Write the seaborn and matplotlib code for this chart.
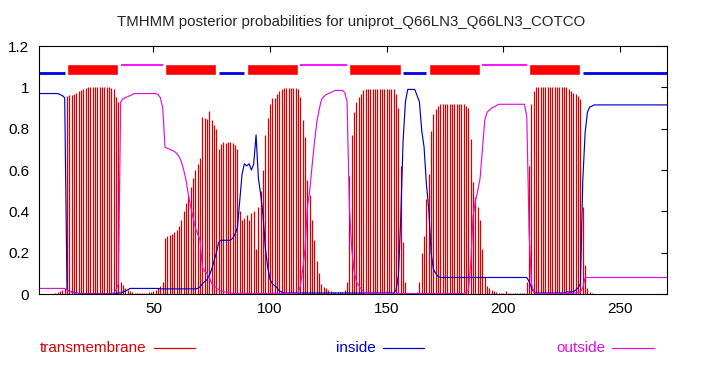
import numpy as np
import pandas as pd
import matplotlib
matplotlib.use("Agg")
import matplotlib.pyplot as plt
from matplotlib.lines import Line2D
import seaborn as sns

# posterior probabilities per residue (1..270)
tm_prob = [
    0, 0, 0, 0, 0, 0, 0, 0.005, 0.01, 0.015,
    0.02, 0.03, 0.96, 0.965, 0.965, 0.97, 0.975, 0.98, 0.985, 0.99,
    0.995, 1, 1, 1, 1, 1, 1, 1, 1, 1,
    1, 0.995, 0.99, 0.955, 0.93, 0.06, 0.045, 0.03, 0.02, 0.015,
    0.01, 0.005, 0.005, 0.005, 0.005, 0.005, 0.005, 0.01, 0.01, 0.015,
    0.02, 0.03, 0.04, 0.06, 0.27, 0.28, 0.285, 0.29, 0.30, 0.31,
    0.33, 0.36, 0.40, 0.44, 0.48, 0.52, 0.56, 0.60, 0.63, 0.66,
    0.855, 0.85, 0.845, 0.885, 0.84, 0.82, 0.80, 0.70, 0.725, 0.735,
    0.73, 0.735, 0.735, 0.73, 0.72, 0.70, 0.40, 0.36, 0.37, 0.38,
    0.36, 0.39, 0.40, 0.22, 0.42, 0.50, 0.60, 0.77, 0.85, 0.92,
    0.95, 0.95, 0.97, 0.98, 0.99, 0.995, 0.995, 0.995, 0.995, 0.995,
    0.995, 0.99, 0.955, 0.84, 0.76, 0.55, 0.48, 0.36, 0.26, 0.16,
    0.10, 0.05, 0.035, 0.03, 0.02, 0.015, 0.01, 0.01, 0.01, 0.01,
    0.01, 0.02, 0.06, 0.57, 0.77, 0.88, 0.93, 0.955, 0.97, 0.985,
    0.99, 0.99, 0.99, 0.99, 0.99, 0.99, 0.99, 0.99, 0.99, 0.99,
    0.99, 0.99, 0.99, 0.97, 0.90, 0.62, 0.25, 0.06, 0, 0,
    0, 0, 0.01, 0.06, 0.20, 0.28, 0.46, 0.58, 0.79, 0.87,
    0.895, 0.91, 0.92, 0.92, 0.92, 0.92, 0.92, 0.92, 0.92, 0.92,
    0.92, 0.92, 0.92, 0.91, 0.90, 0.75, 0.54, 0.47, 0.42, 0.36,
    0.22, 0.08, 0.04, 0.03, 0.02, 0.015, 0.01, 0.005, 0.005, 0.005,
    0.015, 0.005, 0.005, 0.005, 0.005, 0.005, 0.005, 0.005, 0.005, 0.06,
    0.62, 0.92, 0.98, 1, 1, 1, 1, 1, 1, 1,
    1, 1, 1, 1, 1, 1, 1, 0.99, 0.98, 0.975,
    0.97, 0.96, 0.945, 0.42, 0.14, 0.03, 0.01, 0.005, 0, 0,
    0, 0, 0, 0, 0, 0, 0, 0, 0, 0,
    0, 0, 0, 0, 0, 0, 0, 0, 0, 0,
    0, 0, 0, 0, 0, 0, 0, 0, 0, 0,
]

inside_prob = [
    0.97, 0.97, 0.97, 0.97, 0.97, 0.97, 0.97, 0.97, 0.97, 0.965,
    0.96, 0.95, 0.02, 0.015, 0.01, 0.008, 0.005, 0.003, 0.002, 0.002,
    0.001, 0.001, 0.001, 0.001, 0.001, 0.001, 0.001, 0.001, 0.001, 0.001,
    0.001, 0.002, 0.003, 0.003, 0.005, 0.005, 0.01, 0.015, 0.02, 0.027,
    0.027, 0.027, 0.027, 0.027, 0.027, 0.027, 0.027, 0.027, 0.027, 0.027,
    0.027, 0.027, 0.025, 0.025, 0.025, 0.025, 0.025, 0.025, 0.025, 0.025,
    0.025, 0.025, 0.025, 0.025, 0.025, 0.025, 0.025, 0.025, 0.027, 0.035,
    0.05, 0.06, 0.07, 0.09, 0.12, 0.16, 0.20, 0.25, 0.26, 0.26,
    0.26, 0.26, 0.26, 0.27, 0.29, 0.32, 0.45, 0.58, 0.63, 0.62,
    0.63, 0.60, 0.63, 0.77, 0.56, 0.48, 0.38, 0.22, 0.13, 0.07,
    0.05, 0.04, 0.03, 0.015, 0.01, 0.005, 0.005, 0.005, 0.005, 0.005,
    0.005, 0.005, 0.005, 0.005, 0.005, 0.005, 0.005, 0.005, 0.005, 0.005,
    0.005, 0.005, 0.005, 0.005, 0.005, 0.005, 0.005, 0.005, 0.005, 0.005,
    0.005, 0.005, 0.005, 0.005, 0.005, 0.005, 0.005, 0.005, 0.005, 0.005,
    0.005, 0.005, 0.005, 0.005, 0.005, 0.005, 0.005, 0.005, 0.005, 0.005,
    0.005, 0.005, 0.005, 0.02, 0.09, 0.37, 0.74, 0.93, 0.99, 0.99,
    0.99, 0.99, 0.96, 0.93, 0.79, 0.71, 0.53, 0.41, 0.20, 0.12,
    0.10, 0.085, 0.08, 0.08, 0.08, 0.08, 0.08, 0.08, 0.08, 0.08,
    0.08, 0.08, 0.08, 0.08, 0.08, 0.08, 0.08, 0.08, 0.08, 0.08,
    0.08, 0.08, 0.08, 0.08, 0.08, 0.08, 0.08, 0.08, 0.08, 0.08,
    0.08, 0.08, 0.08, 0.08, 0.08, 0.08, 0.08, 0.08, 0.08, 0.08,
    0.06, 0.03, 0.01, 0.005, 0.005, 0.005, 0.005, 0.005, 0.005, 0.005,
    0.005, 0.005, 0.005, 0.005, 0.005, 0.005, 0.01, 0.01, 0.01, 0.01,
    0.02, 0.03, 0.05, 0.55, 0.78, 0.88, 0.905, 0.91, 0.915, 0.915,
    0.915, 0.915, 0.915, 0.915, 0.915, 0.915, 0.915, 0.915, 0.915, 0.915,
    0.915, 0.915, 0.915, 0.915, 0.915, 0.915, 0.915, 0.915, 0.915, 0.915,
    0.915, 0.915, 0.915, 0.915, 0.915, 0.915, 0.915, 0.915, 0.915, 0.915,
]

outside_prob = [
    0.027, 0.027, 0.027, 0.027, 0.027, 0.027, 0.027, 0.027, 0.027, 0.027,
    0.027, 0.027, 0.02, 0.015, 0.01, 0.006, 0.004, 0.002, 0, 0,
    0, 0, 0, 0, 0, 0, 0, 0, 0, 0,
    0, 0, 0.005, 0.02, 0.05, 0.93, 0.945, 0.95, 0.955, 0.96,
    0.965, 0.97, 0.97, 0.97, 0.97, 0.97, 0.97, 0.97, 0.97, 0.97,
    0.97, 0.965, 0.95, 0.90, 0.71, 0.705, 0.70, 0.695, 0.69, 0.68,
    0.665, 0.64, 0.60, 0.55, 0.48, 0.42, 0.37, 0.32, 0.29, 0.26,
    0.13, 0.11, 0.10, 0.08, 0.05, 0.04, 0.03, 0.02, 0.015, 0.01,
    0.01, 0.008, 0.005, 0.003, 0.003, 0.003, 0.003, 0.003, 0.003, 0.003,
    0.002, 0.002, 0.002, 0.002, 0.002, 0.002, 0.002, 0.002, 0.002, 0.002,
    0.002, 0.002, 0.002, 0.002, 0.002, 0.002, 0.002, 0.002, 0.002, 0.002,
    0.002, 0.005, 0.04, 0.12, 0.22, 0.42, 0.50, 0.62, 0.73, 0.83,
    0.89, 0.94, 0.955, 0.965, 0.97, 0.975, 0.98, 0.985, 0.985, 0.985,
    0.985, 0.975, 0.93, 0.42, 0.22, 0.11, 0.06, 0.04, 0.025, 0.012,
    0.005, 0.005, 0.005, 0.005, 0.005, 0.002, 0.002, 0.002, 0.002, 0.002,
    0.002, 0.002, 0.002, 0.002, 0.002, 0.002, 0.002, 0.002, 0.002, 0.002,
    0.002, 0.002, 0.002, 0.002, 0.002, 0.002, 0.002, 0.002, 0.002, 0.002,
    0.002, 0.002, 0.002, 0.002, 0.002, 0.002, 0.002, 0.002, 0.002, 0.002,
    0.002, 0.002, 0.002, 0.01, 0.02, 0.15, 0.38, 0.45, 0.50, 0.56,
    0.70, 0.84, 0.88, 0.89, 0.90, 0.905, 0.912, 0.918, 0.918, 0.918,
    0.918, 0.918, 0.918, 0.918, 0.918, 0.918, 0.918, 0.918, 0.918, 0.86,
    0.30, 0.05, 0.01, 0.002, 0.002, 0.002, 0.002, 0.002, 0.002, 0.002,
    0.002, 0.002, 0.002, 0.002, 0.002, 0.002, 0.003, 0.003, 0.003, 0.003,
    0.005, 0.008, 0.01, 0.03, 0.08, 0.08, 0.08, 0.08, 0.08, 0.08,
    0.08, 0.08, 0.08, 0.08, 0.08, 0.08, 0.08, 0.08, 0.08, 0.08,
    0.08, 0.08, 0.08, 0.08, 0.08, 0.08, 0.08, 0.08, 0.08, 0.08,
    0.08, 0.08, 0.08, 0.08, 0.08, 0.08, 0.08, 0.08, 0.08, 0.08,
]

# predicted topology (first, last residue)
tm_segments = [(13, 35), (55, 77), (90, 112), (134, 156), (168, 190), (211, 233)]
inside_segments = [(1, 12), (78, 89), (157, 167), (234, 270)]
outside_segments = [(36, 54), (113, 133), (191, 210)]

seq_len = 270
x_ticks = [50, 100, 150, 200, 250]
y_ticks = [0, 0.2, 0.4, 0.6, 0.8, 1.0, 1.2]
y_labels = ["0", "0.2", "0.4", "0.6", "0.8", "1", "1.2"]

assert len(tm_prob) == seq_len and len(inside_prob) == seq_len and len(outside_prob) == seq_len

df = pd.DataFrame({
    "residue": np.arange(1, seq_len + 1),
    "transmembrane": tm_prob,
    "inside": inside_prob,
    "outside": outside_prob,
})

RED = "#d80000"
BLUE = "#0000cc"
MAGENTA = "#e010e0"

sns.set_style("white")
plt.rcParams["font.family"] = ["Liberation Sans", "DejaVu Sans"]

fig = plt.figure(figsize=(7.03, 3.71), dpi=100)
ax = fig.add_axes([0.0555, 0.2075, 0.893, 0.6685])

# transmembrane posterior as impulses
ax.vlines(df["residue"], 0, df["transmembrane"], colors=RED, lw=0.9)

sns.lineplot(data=df, x="residue", y="inside", ax=ax, color=BLUE, lw=0.85)
sns.lineplot(data=df, x="residue", y="outside", ax=ax, color=MAGENTA, lw=0.85)

# topology bar on top
ax.broken_barh([(s, e - s) for s, e in tm_segments], (1.062, 0.053), facecolors="red")
ax.hlines([1.068] * len(inside_segments), [s for s, e in inside_segments],
          [e for s, e in inside_segments], colors="#0000e0", lw=2.0)
ax.hlines([1.109] * len(outside_segments), [s for s, e in outside_segments],
          [e for s, e in outside_segments], colors="#ff00ff", lw=1.3)

ax.set_xlim(1, seq_len)
ax.set_ylim(0, 1.2)
ax.set_xticks(x_ticks)
ax.set_xticklabels([str(t) for t in x_ticks])
ax.set_yticks(y_ticks)
ax.set_yticklabels(y_labels)
ax.set_xlabel("")
ax.set_ylabel("")
ax.tick_params(direction="in", top=True, right=True, length=4, width=0.8,
               labelsize=11, colors="black")
ax.tick_params(axis="y", pad=7)
ax.tick_params(axis="x", pad=6)
for sp in ax.spines.values():
    sp.set_visible(True)
    sp.set_color("black")
    sp.set_linewidth(0.8)

fig.text(0.5, 0.94, "TMHMM posterior probabilities for uniprot_Q66LN3_Q66LN3_COTCO",
         ha="center", va="center", fontsize=10.8)

# legend row under the plot
legend_items = [("transmembrane", RED, 0.057, 0.219, 0.278),
                ("inside", BLUE, 0.478, 0.545, 0.603),
                ("outside", MAGENTA, 0.791, 0.870, 0.930)]
for label, col, tx, l0, l1 in legend_items:
    fig.text(tx, 0.062, label, color=col, ha="left", va="center", fontsize=11)
    fig.add_artist(Line2D([l0, l1], [0.062, 0.062], color=col, lw=0.9,
                          transform=fig.transFigure))

fig.savefig("out.png", dpi=100)
